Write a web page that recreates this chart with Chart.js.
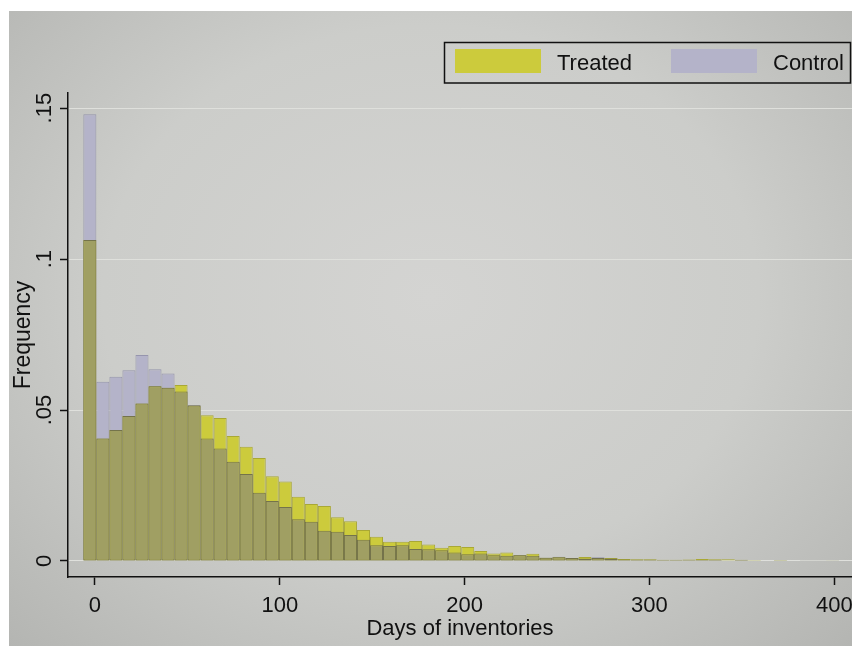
<!DOCTYPE html>
<html>
<head>
<meta charset="utf-8">
<script src="https://cdn.jsdelivr.net/npm/chart.js@4.4.0/dist/chart.umd.min.js"></script>
<style>
  html, body { margin: 0; padding: 0; background: #fff; }
  #wrap { position: relative; width: 852px; height: 646px; overflow: hidden; }
  #photo { position: absolute; left: 9px; top: 11px; right: 0; bottom: 0;
    background: radial-gradient(ellipse at 50% 45%, #d4d4d2 0%, #cccdca 55%, #b4b5b2 100%); }
  canvas { position: absolute; left: 0; top: 0; }
</style>
</head>
<body>
<div id="wrap"><div id="photo"></div><canvas id="hist" width="852" height="646"></canvas></div>
<script>
// histogram bins (days)
const binStart = -6.3;
const binWidth = 7.05;

const seriesNames = ['Treated', 'Control'];

const treated = [
  0.1063, 0.0406, 0.0434, 0.0480, 0.0522, 0.0579, 0.0574, 0.0583, 0.0515, 0.0483,
  0.0474, 0.0414, 0.0378, 0.0341, 0.0281, 0.0263, 0.0213, 0.0189, 0.0182, 0.0145,
  0.0132, 0.0103, 0.0080, 0.0064, 0.0064, 0.0066, 0.0055, 0.0044, 0.0050, 0.0046,
  0.0033, 0.0025, 0.0028, 0.0019, 0.0024, 0.0011, 0.0012, 0.0010, 0.0013, 0.0010,
  0.0010, 0.0007, 0.0006, 0.0006, 0.0004, 0.0004, 0.0005, 0.0007, 0.0006, 0.0006,
  0.0004, 0.0003, 0.0002, 0.0003, 0.0002, 0.0002, 0.0002, 0.0001
];
const control = [
  0.1480, 0.0594, 0.0610, 0.0632, 0.0682, 0.0635, 0.0621, 0.0561, 0.0517, 0.0406,
  0.0373, 0.0329, 0.0288, 0.0226, 0.0199, 0.0179, 0.0138, 0.0130, 0.0100, 0.0097,
  0.0086, 0.0070, 0.0052, 0.0050, 0.0052, 0.0040, 0.0039, 0.0036, 0.0028, 0.0022,
  0.0025, 0.0019, 0.0017, 0.0020, 0.0017, 0.0011, 0.0014, 0.0010, 0.0008, 0.0012,
  0.0008, 0.0005, 0.0004, 0.0004, 0.0003, 0.0003, 0.0003, 0.0003, 0.0003, 0.0002,
  0.0003, 0.0002, 0.0002, 0.0001, 0.0002, 0.0001, 0.0001, 0.0001
];

const xTicks = [0, 100, 200, 300, 400];
const yTicks = [0, 0.05, 0.1, 0.15];
const yTickLabels = ['0', '.05', '.1', '.15'];

const treatedColor = '#cccb3c';
const controlColor = '#b4b3c9';
const bothColor = '#a09f63';

Chart.defaults.font.family = '"Liberation Sans", Arial, sans-serif';

const toPoints = vals => vals.map((v, i) => ({ x: binStart + binWidth * (i + 0.5), y: v }));
// part where the two histograms overlap (drawn on top, like the blended colour)
const overlap = treated.map((v, i) => Math.min(v, control[i]));

const barStyle = { borderWidth: 1, borderSkipped: false, grouped: false,
  barPercentage: 1, categoryPercentage: 1, inflateAmount: 0 };

// Stata style boxed legend, top right
const legendBox = {
  id: 'legendBox',
  afterDraw(chart) {
    const c = chart.ctx;
    c.save();
    c.strokeStyle = '#111';
    c.lineWidth = 1.5;
    c.strokeRect(444.5, 42.5, 406, 40.5);
    c.font = '22px "Liberation Sans", Arial, sans-serif';
    c.textBaseline = 'alphabetic';
    [[seriesNames[0], treatedColor, 455], [seriesNames[1], controlColor, 671]].forEach(([label, color, x]) => {
      c.fillStyle = color;
      c.fillRect(x, 49, 86, 24);
      c.fillStyle = '#111';
      c.fillText(label, x + 102, 70);
    });
    c.restore();
  }
};

new Chart(document.getElementById('hist').getContext('2d'), {
  type: 'bar',
  data: {
    datasets: [
      { label: 'both', data: toPoints(overlap), backgroundColor: bothColor, borderColor: '#74734b', ...barStyle },
      { label: seriesNames[0], data: toPoints(treated), backgroundColor: treatedColor, borderColor: '#a9a834', ...barStyle },
      { label: seriesNames[1], data: toPoints(control), backgroundColor: controlColor, borderColor: '#9695ad', ...barStyle }
    ]
  },
  options: {
    responsive: false,
    animation: false,
    layout: { padding: { top: 93, right: 0, bottom: 0, left: 0 } },
    plugins: { legend: { display: false }, tooltip: { enabled: false } },
    scales: {
      x: {
        type: 'linear', min: -14.6, max: 409.6, offset: false,
        afterBuildTicks: s => { s.ticks = xTicks.map(v => ({ value: v })); },
        afterFit: s => { s.height = 69; s.paddingLeft = 0; s.paddingRight = 0; },
        ticks: { color: '#111', font: { size: 22 }, padding: 8, maxRotation: 0, autoSkip: false, callback: v => String(v) },
        grid: { drawOnChartArea: false, offset: false, tickLength: 8, tickColor: '#111', tickWidth: 1.5 },
        border: { color: '#111', width: 1.5 },
        title: { display: true, text: 'Days of inventories', color: '#111', font: { size: 22 }, padding: { top: 0, bottom: 4 } }
      },
      y: {
        min: -0.0053, max: 0.155,
        afterBuildTicks: s => { s.ticks = yTicks.map(v => ({ value: v })); },
        afterFit: s => { s.width = 68; s.paddingTop = 0; s.paddingBottom = 0; },
        ticks: { color: '#111', font: { size: 22 }, padding: 0, minRotation: 90, maxRotation: 90, crossAlign: 'center',
          callback: v => yTickLabels[yTicks.indexOf(v)] },
        grid: { color: '#dfe0dc', lineWidth: 1, tickLength: 8, tickColor: '#111', tickWidth: 1.5 },
        border: { color: '#111', width: 1.5 },
        title: { display: true, text: 'Frequency', color: '#111', font: { size: 23 }, padding: { top: 10, bottom: 0 } }
      }
    }
  },
  plugins: [legendBox]
});
</script>
</body>
</html>
